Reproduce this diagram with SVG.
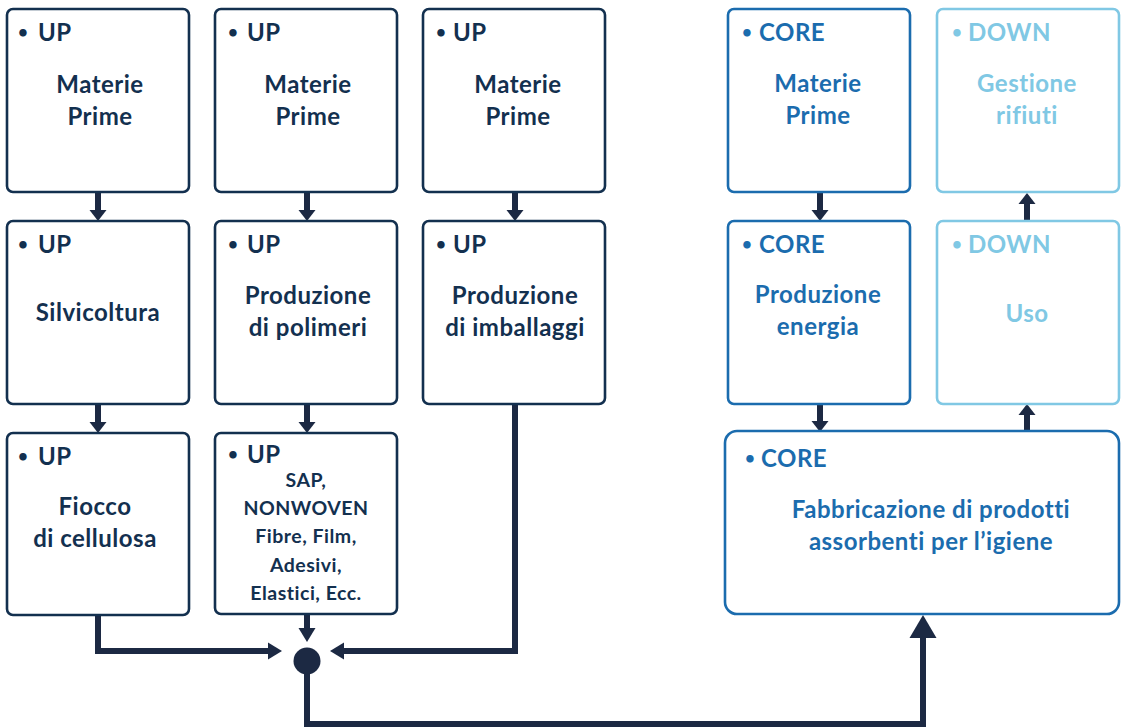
<svg xmlns="http://www.w3.org/2000/svg" width="1121" height="727" viewBox="0 0 1121 727">
<style>
  .box { fill: #ffffff; stroke-width: 2.6; }
  .up { stroke: #13304f; }
  .core { stroke: #1b6cae; }
  .down { stroke: #80c8e4; }
  text { font-family: Lato, "Open Sans", "Liberation Sans", sans-serif; font-weight: bold; font-size: 24px; letter-spacing: 0.5px; }
  .b { font-size: 17px; }
  .tu { fill: #13304f; }
  .tc { fill: #1b6cae; }
  .td { fill: #80c8e4; }
  .mid { text-anchor: middle; }
  .small { font-size: 19.5px; }
  .conn { fill: none; stroke: #1c2943; stroke-width: 6; stroke-linejoin: miter; stroke-linecap: butt; }
</style>
<defs>
  <marker id="hs" markerUnits="userSpaceOnUse" markerWidth="11" markerHeight="17" refX="0" refY="8.5" orient="auto" overflow="visible">
    <path d="M0,0 L11,8.5 L0,17 Z" fill="#1c2943"/>
  </marker>
  <marker id="hm" markerUnits="userSpaceOnUse" markerWidth="14" markerHeight="17" refX="0" refY="8.5" orient="auto" overflow="visible">
    <path d="M0,0 L14,8.5 L0,17 Z" fill="#1c2943"/>
  </marker>
  <marker id="hl" markerUnits="userSpaceOnUse" markerWidth="23" markerHeight="27" refX="0" refY="13.5" orient="auto" overflow="visible">
    <path d="M0,0 L23,13.5 L0,27 Z" fill="#1c2943"/>
  </marker>
</defs>

<g id="connectors">
  <path class="conn" d="M98,193 V210" marker-end="url(#hs)"/>
  <path class="conn" d="M98,405 V422" marker-end="url(#hs)"/>
  <path class="conn" d="M307,193 V210" marker-end="url(#hs)"/>
  <path class="conn" d="M307,405 V422" marker-end="url(#hs)"/>
  <path class="conn" d="M515,193 V210" marker-end="url(#hs)"/>
  <path class="conn" d="M820,193 V210" marker-end="url(#hs)"/>
  <path class="conn" d="M820,405 V421" marker-end="url(#hs)"/>
  <path class="conn" d="M1027,221 V204" marker-end="url(#hs)"/>
  <path class="conn" d="M1027,431 V415" marker-end="url(#hs)"/>
  <path class="conn" d="M98,615 V651 H268" marker-end="url(#hm)"/>
  <path class="conn" d="M515,405 V651 H344" marker-end="url(#hm)"/>
  <path class="conn" d="M307,615 V628" marker-end="url(#hm)"/>
  <path class="conn" d="M307,661 V724 H923 V638" marker-end="url(#hl)"/>
  <circle id="junction" cx="307" cy="661" r="13.5" fill="#1c2943"/>
</g>

<g id="up-mp-1">
  <rect class="box up" x="7" y="9" width="182" height="183" rx="6"/>
  <text class="tu"><tspan class="b" x="18" y="38">•</tspan><tspan x="38" y="41">UP</tspan></text>
  <text class="tu mid" x="100" y="93">Materie</text>
  <text class="tu mid" x="100" y="125">Prime</text>
</g>
<g id="up-mp-2">
  <rect class="box up" x="215" y="9" width="182" height="183" rx="6"/>
  <text class="tu"><tspan class="b" x="228" y="38">•</tspan><tspan x="247" y="41">UP</tspan></text>
  <text class="tu mid" x="308" y="93">Materie</text>
  <text class="tu mid" x="308" y="125">Prime</text>
</g>
<g id="up-mp-3">
  <rect class="box up" x="423" y="9" width="182" height="183" rx="6"/>
  <text class="tu"><tspan class="b" x="436" y="38">•</tspan><tspan x="453" y="41">UP</tspan></text>
  <text class="tu mid" x="518" y="93">Materie</text>
  <text class="tu mid" x="518" y="125">Prime</text>
</g>
<g id="up-silvicoltura">
  <rect class="box up" x="7" y="221" width="182" height="183" rx="6"/>
  <text class="tu"><tspan class="b" x="18" y="250">•</tspan><tspan x="38" y="253">UP</tspan></text>
  <text class="tu mid" x="98" y="321">Silvicoltura</text>
</g>
<g id="up-polimeri">
  <rect class="box up" x="215" y="221" width="182" height="183" rx="6"/>
  <text class="tu"><tspan class="b" x="228" y="250">•</tspan><tspan x="247" y="253">UP</tspan></text>
  <text class="tu mid" x="308" y="304">Produzione</text>
  <text class="tu mid" x="308" y="336">di polimeri</text>
</g>
<g id="up-imballaggi">
  <rect class="box up" x="423" y="221" width="182" height="183" rx="6"/>
  <text class="tu"><tspan class="b" x="436" y="250">•</tspan><tspan x="453" y="253">UP</tspan></text>
  <text class="tu mid" x="515" y="304">Produzione</text>
  <text class="tu mid" x="515" y="336">di imballaggi</text>
</g>
<g id="up-cellulosa">
  <rect class="box up" x="7" y="433" width="182" height="182" rx="6"/>
  <text class="tu"><tspan class="b" x="18" y="462">•</tspan><tspan x="38" y="465">UP</tspan></text>
  <text class="tu mid" x="95" y="515">Fiocco</text>
  <text class="tu mid" x="95" y="547">di cellulosa</text>
</g>
<g id="up-sap">
  <rect class="box up" x="215" y="433" width="182" height="181" rx="6"/>
  <text class="tu"><tspan class="b" x="228" y="460">•</tspan><tspan x="247" y="463">UP</tspan></text>
  <text class="tu mid small" x="306" y="487">SAP,</text>
  <text class="tu mid small" x="306" y="515">NONWOVEN</text>
  <text class="tu mid small" x="306" y="543">Fibre, Film,</text>
  <text class="tu mid small" x="306" y="572">Adesivi,</text>
  <text class="tu mid small" x="306" y="600">Elastici, Ecc.</text>
</g>
<g id="core-mp">
  <rect class="box core" x="728" y="9" width="182" height="183" rx="6"/>
  <text class="tc"><tspan class="b" x="742" y="38">•</tspan><tspan x="759" y="41">CORE</tspan></text>
  <text class="tc mid" x="818" y="92">Materie</text>
  <text class="tc mid" x="818" y="124">Prime</text>
</g>
<g id="core-energia">
  <rect class="box core" x="728" y="221" width="182" height="183" rx="6"/>
  <text class="tc"><tspan class="b" x="742" y="250">•</tspan><tspan x="759" y="253">CORE</tspan></text>
  <text class="tc mid" x="818" y="303">Produzione</text>
  <text class="tc mid" x="818" y="335">energia</text>
</g>
<g id="down-rifiuti">
  <rect class="box down" x="937" y="9" width="182" height="183" rx="6"/>
  <text class="td"><tspan class="b" x="952" y="38">•</tspan><tspan x="968" y="41">DOWN</tspan></text>
  <text class="td mid" x="1027" y="92">Gestione</text>
  <text class="td mid" x="1027" y="124">rifiuti</text>
</g>
<g id="down-uso">
  <rect class="box down" x="937" y="221" width="182" height="183" rx="6"/>
  <text class="td"><tspan class="b" x="952" y="250">•</tspan><tspan x="968" y="253">DOWN</tspan></text>
  <text class="td mid" x="1027" y="322">Uso</text>
</g>
<g id="core-fabbricazione">
  <rect class="box core" x="725" y="431" width="394" height="183" rx="12"/>
  <text class="tc"><tspan class="b" x="745" y="464">•</tspan><tspan x="761" y="467">CORE</tspan></text>
  <text class="tc mid" x="931" y="518">Fabbricazione di prodotti</text>
  <text class="tc mid" x="931" y="550">assorbenti per l’igiene</text>
</g>
</svg>
